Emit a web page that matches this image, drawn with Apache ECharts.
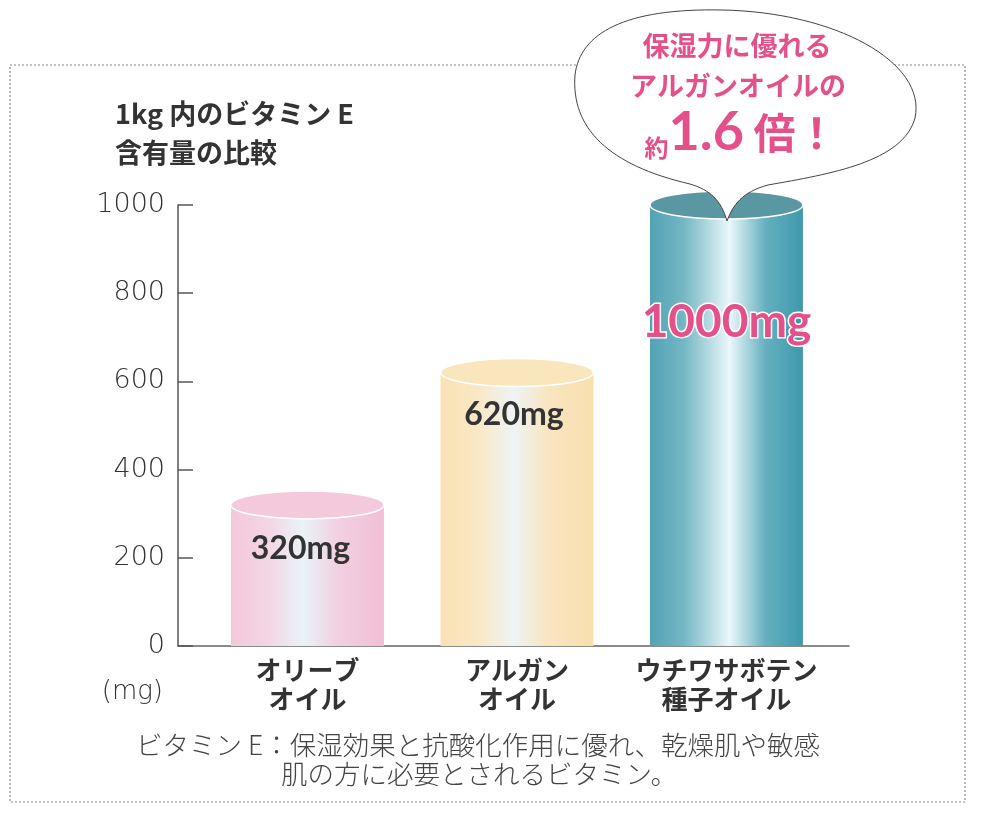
<!DOCTYPE html>
<html>
<head>
<meta charset="utf-8">
<script src="https://cdn.jsdelivr.net/npm/echarts@6/dist/echarts.min.js"></script>
<style>html,body{margin:0;padding:0;background:#fff}#c{width:984px;height:820px}</style>
</head>
<body>
<div id="c"></div>
<script>
// ---- data ----
const categories = ['オリーブ\nオイル', 'アルガン\nオイル', 'ウチワサボテン\n種子オイル'];
const values = [320, 620, 1000];
const yMin = 0, yMax = 1000, yInterval = 200;
const titleText = '1kg 内のビタミン E\n含有量の比較';
const unitText = '(mg)';
const footerLines = ['ビタミン E：保湿効果と抗酸化作用に優れ、乾燥肌や敏感', '肌の方に必要とされるビタミン。'];
const bubbleLines = ['保湿力に優れる', 'アルガンオイルの'];

// ---- styles ----
const JP = '"Noto Sans CJK JP", "Noto Sans", sans-serif';
const NUM = 'Lato, "Noto Sans", sans-serif';
const THIN = '"DejaVu Sans", "Noto Sans", sans-serif';
const PINK = '#e4508a';
const bodyStops = [
  [[0,'#f3c8db'],[0.25,'#f3d6e4'],[0.47,'#eaf3f7'],[0.7,'#f1d0e1'],[1,'#f1bed5']],
  [[0,'#f9e1b3'],[0.25,'#f9e8c6'],[0.48,'#eef4f4'],[0.7,'#f8e5c0'],[1,'#f8dfae']],
  [[0,'#52a3b4'],[0.22,'#74b6c4'],[0.52,'#eaf7fb'],[0.76,'#63afbf'],[1,'#3e99ab']]
];
const topColors = ['#f4c9dc', '#fae6bd', '#5b97a3'];
const labelDy = [44, 42, 117];
const labelDx = [7, 3, 0];
const labelStyles = [
  {fill:'#333', size:32, stroke:null},
  {fill:'#333', size:32, stroke:null},
  {fill:PINK, size:46, stroke:'#fff'}
];

const chart = echarts.init(document.getElementById('c'), null, {renderer:'canvas'});

function renderItem(params, api) {
  const i = api.value(0), v = api.value(1);
  const top = api.coord([i, v]);
  const base = api.coord([i, 0]);
  const w = api.size([0.73, 0])[0];
  const rx = w / 2, ry = 14;
  const ls = labelStyles[i];
  const textStyle = {
    text: v + 'mg', x: top[0] - labelDx[i], y: top[1] + labelDy[i],
    align: 'center', verticalAlign: 'middle',
    fontSize: ls.size, fontWeight: 'bold', fontFamily: NUM, fill: ls.fill
  };
  if (ls.stroke) { textStyle.stroke = ls.stroke; textStyle.lineWidth = 3; }
  return {
    type: 'group',
    children: [
      {type:'rect', shape:{x: top[0]-rx, y: top[1], width: w, height: base[1]-top[1]},
       style:{fill: {type:'linear', x:0, y:0, x2:1, y2:0, colorStops: bodyStops[i].map(s=>({offset:s[0], color:s[1]}))}}},
      {type:'ellipse', shape:{cx: top[0], cy: top[1], rx: rx, ry: ry},
       style:{fill: topColors[i], stroke:'#ffffff', lineWidth:1.5}},
      {type:'text', style: textStyle, z2: 10}
    ]
  };
}

const bubblePath = 'M 727 221 C 733 205, 742 192, 768 185 C 830 174, 903 162, 915 118 C 927 62, 835 12, 722 10 C 625 8, 580 33, 575 75 C 571 128, 608 165, 690 184 C 710 190, 721 200, 727 221 Z';

function renderBubble() {
  return {
    type: 'group',
    children: [
      {type:'path', shape:{pathData: bubblePath}, style:{fill:'#fff', stroke:'#444', lineWidth:1}},
      {type:'text', style:{text: bubbleLines[0], x: 737, y: 46, align:'center', verticalAlign:'middle',
        fontSize: 27, fontWeight:'bold', fill: PINK, fontFamily: JP}},
      {type:'text', style:{text: bubbleLines[1], x: 738, y: 86, align:'center', verticalAlign:'middle',
        fontSize: 27, fontWeight:'bold', fill: PINK, fontFamily: JP}},
      {type:'text', style:{text: '{a|約}{b|1.6}{c| 倍！}', x: 741, y: 133, align:'center', verticalAlign:'middle',
        fill: PINK, rich: {
          a: {fontSize: 24, fontWeight:'bold', fontFamily: JP, fill: PINK, verticalAlign:'bottom'},
          b: {fontSize: 54, fontWeight:'bold', fontFamily: NUM, fill: PINK},
          c: {fontSize: 42, fontWeight:'bold', fontFamily: JP, fill: PINK}
        }}}
    ]
  };
}

const option = {
  backgroundColor: '#fff',
  animation: false,
  title: {
    text: titleText, left: 110, top: 89,
    textStyle: {fontSize: 27, fontWeight: 'bold', lineHeight: 39, color: '#333', fontFamily: JP}
  },
  grid: {left: 178, top: 205, right: 135, bottom: 174, containLabel: false},
  xAxis: {
    type: 'value', min: -0.618, max: 2.585,
    axisLine: {show: true, lineStyle: {color: '#666', width: 1.5}},
    axisTick: {show: false}, splitLine: {show: false},
    axisLabel: {
      customValues: [0, 1, 2],
      formatter: v => categories[Math.round(v)] || '',
      fontSize: 26, fontWeight: 'bold', lineHeight: 29, margin: 10,
      color: '#333', fontFamily: JP
    }
  },
  yAxis: {
    type: 'value', min: yMin, max: yMax, interval: yInterval,
    axisLine: {show: true, onZero: false, lineStyle: {color: '#555', width: 1.5}},
    axisTick: {show: true, inside: true, length: 15, lineStyle: {color: '#555', width: 1.5}},
    splitLine: {show: false},
    axisLabel: {fontSize: 27, fontWeight: 200, color: '#333', margin: 13, fontFamily: THIN,
      formatter: v => String(v)}
  },
  series: [{
    type: 'custom', clip: false, z: 3,
    renderItem: renderItem,
    data: values.map((v, i) => [i, v])
  }, {
    type: 'custom', clip: false, z: 20, silent: true,
    renderItem: renderBubble,
    data: [[0, 0]]
  }],
  graphic: [
    {type:'rect', z: 0, shape:{x:10, y:65, width:955, height:737},
     style:{fill:'none', stroke:'#888', lineWidth:1.2, lineDash:[2,2]}},
    {type:'text', z: 5, style:{text: unitText, x: 163, y: 692, align:'right', verticalAlign:'middle',
      fontSize: 26, fontWeight: 200, fill:'#333', fontFamily: THIN}},
    {type:'text', z: 5, style:{text: footerLines[0], x: 478, y: 745, align:'center', verticalAlign:'middle',
      fontSize: 26.5, fill:'#444', fontFamily: JP, fontWeight: 300}},
    {type:'text', z: 5, style:{text: footerLines[1], x: 479, y: 774, align:'center', verticalAlign:'middle',
      fontSize: 26.5, fill:'#444', fontFamily: JP, fontWeight: 300}}
  ]
};
chart.setOption(option);
</script>
</body>
</html>
